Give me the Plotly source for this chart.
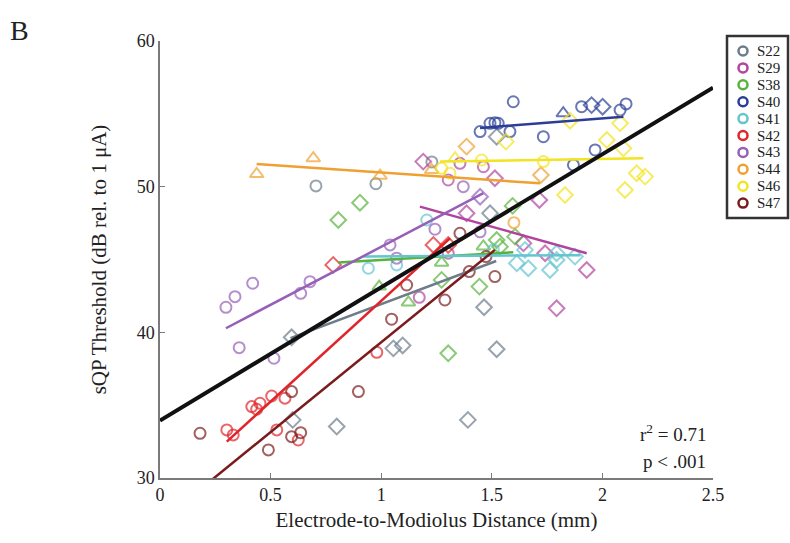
import plotly.graph_objects as go

# ---------------- data ----------------
subjects = ["S22", "S29", "S38", "S40", "S41", "S42", "S43", "S44", "S46", "S47"]
colors = ["#6c7c8a", "#b0449e", "#58b23c", "#2b3d96", "#62c5d0",
          "#e0242a", "#9560b6", "#f0a030", "#f2e420", "#7a1c1e"]

# point symbols: c = circle, d = diamond, t = triangle
S22_x = [0.705, 0.976, 1.229, 0.595, 0.600, 0.799, 1.055, 1.097, 1.392, 1.465, 1.492, 1.522, 1.522]
S22_y = [50.05, 50.2, 51.7, 39.66, 33.99, 33.53, 38.9, 39.1, 33.99, 41.72, 48.17, 38.84, 53.43]
S22_s = ["c", "c", "c", "d", "d", "d", "d", "d", "d", "d", "d", "d", "d"]

S29_x = [1.19, 1.514, 1.715, 1.386, 1.643, 1.741, 1.929, 1.793, 1.303, 1.356, 1.462, 1.172, 1.303]
S29_y = [51.72, 50.58, 49.09, 48.17, 46.11, 45.43, 44.28, 41.65, 50.46, 51.6, 51.37, 42.4, 45.43]
S29_s = ["d", "d", "d", "d", "d", "d", "d", "d", "c", "c", "c", "c", "c"]

S38_x = [0.806, 0.904, 1.594, 1.605, 1.522, 1.537, 1.273, 1.444, 1.303, 1.273, 1.123, 0.991, 1.462]
S38_y = [47.71, 48.9, 48.68, 46.57, 46.34, 45.88, 43.6, 43.14, 38.56, 44.78, 42.05, 43.14, 45.9]
S38_s = ["d", "d", "d", "d", "d", "d", "d", "d", "d", "t", "t", "t", "t"]

S40_x = [1.597, 1.447, 1.492, 1.514, 1.529, 1.582, 1.733, 1.906, 2.08, 2.107, 1.967, 1.869, 1.951, 2.001, 1.823]
S40_y = [55.83, 53.78, 54.35, 54.39, 54.35, 53.78, 53.43, 55.49, 55.26, 55.68, 52.52, 51.49, 55.6, 55.49, 55.04]
S40_s = ["c", "c", "c", "c", "c", "c", "c", "c", "c", "c", "c", "c", "d", "d", "t"]

S41_x = [1.206, 0.942, 1.07, 1.507, 1.65, 1.613, 1.665, 1.763, 1.793, 1.793, 1.876]
S41_y = [47.71, 44.4, 44.63, 45.66, 45.66, 44.74, 44.4, 44.28, 45.43, 44.97, 45.2]
S41_s = ["c", "c", "c", "c", "d", "d", "d", "d", "d", "d", "d"]

S42_x = [0.302, 0.331, 0.528, 0.625, 0.415, 0.452, 0.437, 0.505, 0.565, 0.98, 0.783, 1.236, 1.303]
S42_y = [33.3, 32.96, 33.3, 32.61, 34.9, 35.13, 34.72, 35.63, 35.48, 38.63, 44.63, 46.0, 46.0]
S42_s = ["c", "c", "c", "c", "c", "c", "c", "c", "c", "c", "d", "d", "d"]

S43_x = [0.298, 0.339, 0.419, 0.358, 0.515, 0.636, 0.678, 1.07, 1.04, 1.243, 1.447, 1.371, 1.447]
S43_y = [41.72, 42.45, 43.37, 38.95, 38.22, 42.68, 43.48, 45.09, 46.0, 47.08, 46.9, 50.0, 49.31]
S43_s = ["c", "c", "c", "c", "c", "c", "c", "c", "c", "c", "c", "c", "d"]

S44_x = [0.437, 0.693, 0.995, 1.228, 1.386, 1.722, 1.6]
S44_y = [50.87, 51.95, 50.75, 51.15, 52.75, 50.8, 47.53]
S44_s = ["t", "t", "t", "t", "d", "d", "c"]

S46_x = [1.273, 1.311, 1.454, 1.733, 1.334, 1.564, 1.854, 2.08, 2.02, 2.095, 1.831, 2.102, 2.155, 2.193]
S46_y = [51.26, 50.92, 51.83, 51.72, 51.95, 53.09, 54.53, 54.35, 53.2, 52.63, 49.43, 49.77, 50.92, 50.69]
S46_s = ["c", "c", "c", "c", "t", "d", "d", "d", "d", "d", "d", "d", "d", "d"]

S47_x = [0.181, 0.49, 0.595, 0.595, 0.636, 0.897, 1.047, 1.115, 1.288, 1.356, 1.398, 1.474, 1.514]
S47_y = [33.07, 31.93, 35.93, 32.84, 33.11, 35.93, 40.9, 43.25, 42.22, 46.8, 44.17, 45.2, 43.83]
S47_s = ["c"] * 13

# per-subject regression line end points
fit_x0 = [0.59, 1.175, 0.806, 1.447, 0.92, 0.302, 0.298, 0.437, 1.266, 0.234]
fit_x1 = [1.52, 1.929, 1.597, 2.095, 1.90, 1.311, 1.462, 1.718, 2.185, 1.514]
fit_y0 = [39.6, 48.63, 44.8, 54.03, 45.2, 32.5, 40.28, 51.56, 51.72, 29.87]
fit_y1 = [44.9, 45.43, 45.5, 54.8, 45.3, 46.46, 49.55, 50.23, 51.95, 45.66]

# overall regression
overall_x = [0.0, 2.5]
overall_y = [33.95, 56.8]

x_ticks = [0, 0.5, 1, 1.5, 2, 2.5]
x_ticklabels = ["0", "0.5", "1", "1.5", "2", "2.5"]
y_ticks = [30, 40, 50, 60]

# ---------------- figure ----------------
sym_map = {"c": "circle-open", "d": "diamond-open", "t": "triangle-up-open"}
size_map = {"c": 11, "d": 12, "t": 12}
pts = {
    "S22": (S22_x, S22_y, S22_s), "S29": (S29_x, S29_y, S29_s),
    "S38": (S38_x, S38_y, S38_s), "S40": (S40_x, S40_y, S40_s),
    "S41": (S41_x, S41_y, S41_s), "S42": (S42_x, S42_y, S42_s),
    "S43": (S43_x, S43_y, S43_s), "S44": (S44_x, S44_y, S44_s),
    "S46": (S46_x, S46_y, S46_s), "S47": (S47_x, S47_y, S47_s),
}
FONT = "Liberation Serif"
L, R, T, B = 160, 77, 41, 65
W, H = 790, 543
PW, PH = W - L - R, H - T - B


def px_x(px):
    return (px - L) / PW


def px_y(py):
    return (H - B - py) / PH


fig = go.Figure()
for i, s in enumerate(subjects):
    xs, ys, ss = pts[s]
    fig.add_trace(go.Scatter(
        x=xs, y=ys, mode="markers", showlegend=False, cliponaxis=False, name=s,
        marker=dict(symbol=[sym_map[k] for k in ss], size=[size_map[k] for k in ss],
                    color=colors[i], line=dict(color=colors[i], width=2)),
    ))
for i, s in enumerate(subjects):
    fig.add_trace(go.Scatter(
        x=[fit_x0[i], fit_x1[i]], y=[fit_y0[i], fit_y1[i]], mode="lines",
        showlegend=False, line=dict(color=colors[i], width=2.5),
    ))
fig.add_trace(go.Scatter(x=overall_x, y=overall_y, mode="lines", showlegend=False,
                         line=dict(color="#111111", width=4)))

# custom legend (box + open circles + labels), placed beside the plot
shapes = [dict(type="rect", xref="paper", yref="paper",
               x0=px_x(727), x1=px_x(788), y0=px_y(218), y1=px_y(36),
               line=dict(color="#333", width=2.5), fillcolor="white", layer="above")]
annotations = []
for i, s in enumerate(subjects):
    cy = 51 + i * 16.9
    shapes.append(dict(type="circle", xref="paper", yref="paper",
                       x0=px_x(738.5), x1=px_x(747.5), y0=px_y(cy + 4.5), y1=px_y(cy - 4.5),
                       line=dict(color=colors[i], width=2.5), layer="above"))
    annotations.append(dict(text=s, xref="paper", yref="paper", x=px_x(756), y=px_y(cy),
                            xanchor="left", yanchor="middle", showarrow=False,
                            borderpad=0,
                            font=dict(family=FONT, size=15, color="#222")))

annotations += [
    dict(text="B", xref="paper", yref="paper", x=px_x(8), y=px_y(13),
         xanchor="left", yanchor="top", showarrow=False,
         font=dict(family=FONT, size=28, color="#222")),
    dict(text="r<sup>2</sup> = 0.71", xref="paper", yref="paper", x=px_x(708), y=px_y(433),
         xanchor="right", yanchor="middle", showarrow=False,
         font=dict(family=FONT, size=19, color="#222")),
    dict(text="p < .001", xref="paper", yref="paper", x=px_x(708), y=px_y(461),
         xanchor="right", yanchor="middle", showarrow=False,
         font=dict(family=FONT, size=19, color="#222")),
]

axis_common = dict(showline=True, linecolor="#7a7a7a", linewidth=1.5, ticks="inside",
                   ticklen=5, tickcolor="#7a7a7a", tickwidth=1.2, showgrid=False,
                   zeroline=False, mirror=False,
                   tickfont=dict(family=FONT, size=18, color="#222"))

fig.update_layout(
    width=W, height=H,
    margin=dict(l=L, r=R, t=T, b=B, autoexpand=False),
    paper_bgcolor="white", plot_bgcolor="white",
    font=dict(family=FONT, color="#222"),
    showlegend=False,
    xaxis=dict(range=[0, 2.5], tickvals=x_ticks, ticktext=x_ticklabels,
               title=dict(text="Electrode-to-Modiolus Distance (mm)",
                          font=dict(family=FONT, size=21, color="#222"), standoff=8),
               **axis_common),
    yaxis=dict(range=[30, 60], tickvals=y_ticks,
               title=dict(text="sQP Threshold (dB rel. to 1 μA)",
                          font=dict(family=FONT, size=21, color="#222"), standoff=24),
               **axis_common),
    shapes=shapes,
    annotations=annotations,
)

fig.write_html("out.html")
